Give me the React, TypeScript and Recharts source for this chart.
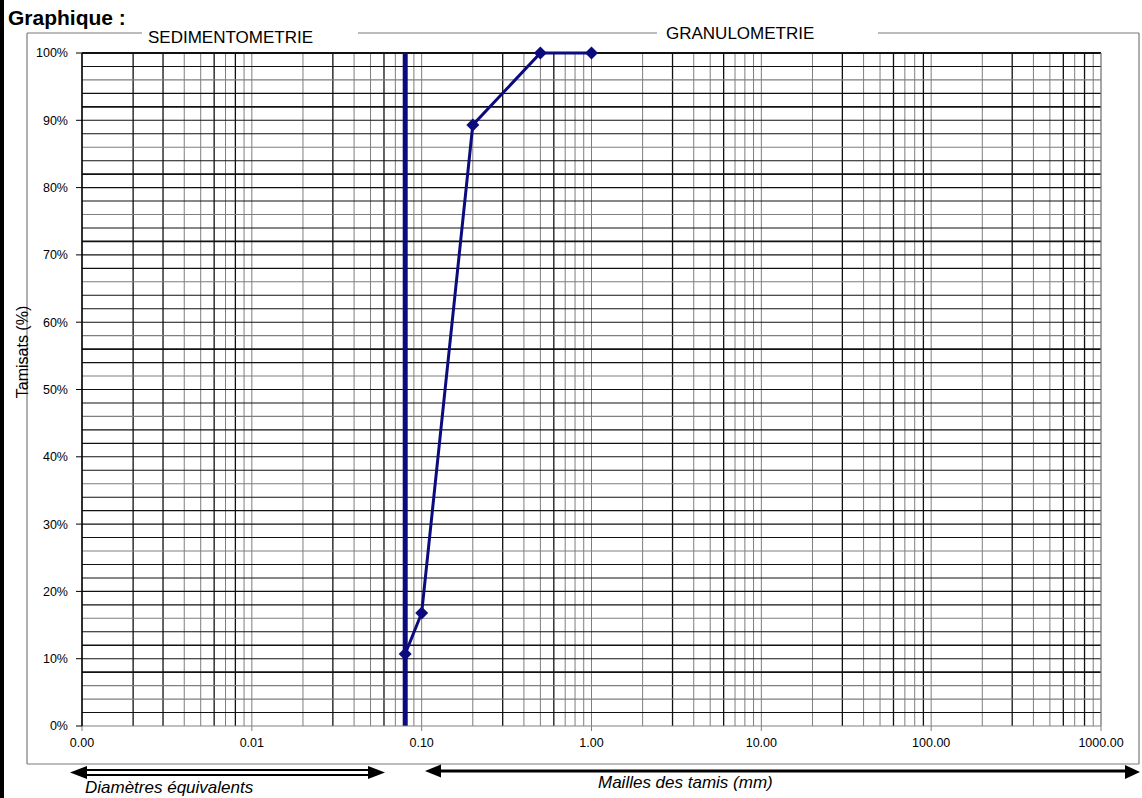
import { ComposedChart, Line, XAxis, YAxis, ReferenceLine } from "recharts";

// sieve analysis (mm -> % passing)
const DIAMETERS = [0.08, 0.1, 0.2, 0.5, 1];
const PASSING = [10.7, 16.8, 89.3, 100, 100];
const CUTOFF_MM = 0.08;

const X_TICKS = [0.001, 0.01, 0.1, 1, 10, 100, 1000];
const Y_TICKS = [0, 10, 20, 30, 40, 50, 60, 70, 80, 90, 100];

// grid lines drawn darker in the original sheet
const HEAVY_X = [0.002, 0.003, 0.006, 0.008, 0.03, 0.06, 0.3, 0.6, 3, 6, 30, 60, 90, 300, 600, 800];
const LIGHT_Y = [96, 86, 76, 66, 58, 52, 46, 36, 26, 16, 6, 4];
const BOLD_Y = [92, 82, 72, 56, 12, 8];

const NAVY = "#0b0b7e";
const FONT = '"Liberation Sans", Arial, sans-serif';

const DECADES = [0.001, 0.01, 0.1, 1, 10, 100];
const MULTS = [1, 2, 3, 4, 5, 6, 7, 8, 9];
const gridX: number[] = [];
DECADES.forEach((d) => MULTS.forEach((m) => gridX.push(+(d * m).toPrecision(3))));
gridX.push(1000);

const gridY: number[] = [];
for (let v = 2; v < 100; v += 2) gridY.push(v);

const curve = DIAMETERS.map((x, i) => ({ x, y: PASSING[i] }));
const cutoff = [
  { x: CUTOFF_MM, y: 0 },
  { x: CUTOFF_MM, y: 100 },
];

const renderDiamond = (p: any) => {
  const { cx, cy, index } = p;
  if (cx == null || cy == null) return <g key={`d-${index}`} />;
  const r = 6.5;
  return (
    <path
      key={`d-${index}`}
      d={`M${cx} ${cy - r}L${cx + r} ${cy}L${cx} ${cy + r}L${cx - r} ${cy}Z`}
      fill={NAVY}
    />
  );
};

const tickStyle = { fill: "#000", fontSize: 12.5, fontFamily: FONT };

export default function App() {
  return (
    <div
      style={{
        position: "absolute",
        left: 0,
        top: 0,
        width: 1142,
        height: 798,
        background: "#fff",
        fontFamily: FONT,
      }}
    >
      <ComposedChart
        width={1142}
        height={798}
        margin={{ top: 53, right: 41, bottom: 42, left: 0 }}
      >
        <XAxis
          type="number"
          dataKey="x"
          scale="log"
          domain={[0.001, 1000]}
          allowDataOverflow
          ticks={X_TICKS}
          interval={0}
          tickFormatter={(v: number) => v.toFixed(2)}
          height={30}
          tickSize={5}
          tickMargin={7}
          stroke="#808080"
          tick={tickStyle}
        />
        <YAxis
          type="number"
          domain={[0, 100]}
          ticks={Y_TICKS}
          interval={0}
          tickFormatter={(v: number) => `${v}%`}
          width={82}
          tickSize={6}
          tickMargin={8}
          axisLine={{ stroke: "#000", strokeWidth: 1.5 }}
          tickLine={{ stroke: "#000" }}
          tick={tickStyle}
        />
        {gridX.map((v) => (
          <ReferenceLine
            key={`gx-${v}`}
            x={v}
            stroke={HEAVY_X.includes(v) ? "#111" : "#7e7e7e"}
            strokeWidth={HEAVY_X.includes(v) ? 1.3 : 1}
          />
        ))}
        {gridY.map((v) => (
          <ReferenceLine
            key={`gy-${v}`}
            y={v}
            stroke={LIGHT_Y.includes(v) ? "#7e7e7e" : "#111"}
            strokeWidth={BOLD_Y.includes(v) ? 1.7 : 1.1}
          />
        ))}
        <ReferenceLine y={100} stroke="#111" strokeWidth={2} />
        <ReferenceLine x={1000} stroke="#8c8c8c" strokeWidth={1} />
        <Line
          data={cutoff}
          dataKey="y"
          stroke={NAVY}
          strokeWidth={5}
          dot={false}
          isAnimationActive={false}
        />
        <Line
          data={curve}
          dataKey="y"
          stroke={NAVY}
          strokeWidth={3}
          dot={renderDiamond}
          isAnimationActive={false}
        />
      </ComposedChart>

      <svg
        width={1142}
        height={798}
        style={{ position: "absolute", left: 0, top: 0, pointerEvents: "none" }}
        fontFamily={FONT}
      >
        <rect x={0} y={0} width={4} height={798} fill="#000" />
        <text x={8} y={25} fontSize={21} fontWeight="bold" fill="#000">
          Graphique :
        </text>

        {/* frame */}
        <g stroke="#7a7a7a" strokeWidth={1.2} fill="none">
          <line x1={27} y1={33} x2={142} y2={33} />
          <line x1={358} y1={33} x2={657} y2={33} />
          <line x1={878} y1={33} x2={1139} y2={33} />
          <line x1={27} y1={33} x2={27} y2={764} />
          <line x1={1139} y1={33} x2={1139} y2={764} />
          <line x1={27} y1={764} x2={1139} y2={764} />
        </g>
        <text x={148} y={43} fontSize={17} fill="#000">
          SEDIMENTOMETRIE
        </text>
        <text x={666} y={39} fontSize={17} fill="#000">
          GRANULOMETRIE
        </text>

        <text
          transform="translate(28, 352) rotate(-90)"
          textAnchor="middle"
          fontSize={16}
          fill="#000"
        >
          Tamisats (%)
        </text>

        {/* arrows */}
        <g fill="#000" stroke="none">
          <rect x={84} y={769} width={288} height={2} />
          <rect x={84} y={774} width={288} height={2} />
          <polygon points="70,772.5 87,766 87,779" />
          <polygon points="385,772.5 368,766 368,779" />
          <rect x={438} y={769.5} width={690} height={3} />
          <polygon points="425,771 441,764.5 441,777.5" />
          <polygon points="1140,772 1125,765 1125,779" />
        </g>
        <text x={85} y={793} fontSize={17} fontStyle="italic" fill="#000">
          Diamètres équivalents
        </text>
        <text x={598} y={788} fontSize={17} fontStyle="italic" fill="#000">
          Mailles des tamis (mm)
        </text>
      </svg>
    </div>
  );
}
